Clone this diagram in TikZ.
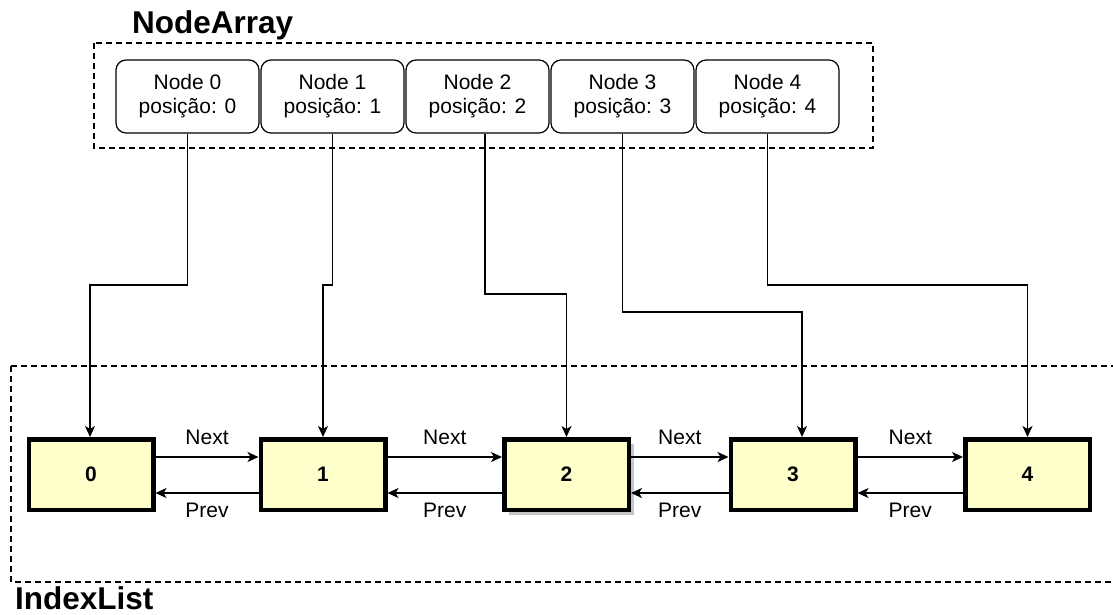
\documentclass[tikz,border=0pt]{standalone}
\usepackage{fontspec}
\setmainfont{Liberation Sans}
\usetikzlibrary{arrows.meta,shadows}
\definecolor{cellfill}{HTML}{FFFFCC}
\begin{document}
\begin{tikzpicture}[x=1pt,y=-1pt,
  every node/.style={font=\fontsize{21}{24}\selectfont},
  group/.style={draw, dashed, dash pattern=on 6pt off 4pt, line width=1.3pt},
  title/.style={font=\fontsize{31.5}{34}\selectfont\bfseries, anchor=base west, inner sep=0pt},
  slot/.style={draw, line width=1.2pt, rounded corners=10pt, minimum width=143pt,
    minimum height=73pt, align=center, inner sep=2pt},
  cell/.style={draw, line width=4.5pt, fill=cellfill, minimum width=124.5pt,
    minimum height=70.5pt, font=\fontsize{21}{24}\selectfont\bfseries},
  conn/.style={line width=1.5pt, -{Stealth[length=11pt,width=10pt,inset=3pt]}},
  lbl/.style={inner sep=0pt}]
\useasboundingbox (0,0) rectangle (1113,614);

% dashed group frames and their titles
\draw[group] (94,43) rectangle (873,148);
\draw[group] (11,366) -- (1116,366);
\draw[group] (11,366) -- (11,582) -- (1116,582);
\node[title] (natitle) at (132,33) {NodeArray};
\node[title] (iltitle) at (15,609) {IndexList};

% array slots
\node[slot] (n0) at (187.5,96.5) {Node 0\\posição: 0};
\node[slot] (n1) at (332.5,96.5) {Node 1\\posição: 1};
\node[slot] (n2) at (477.5,96.5) {Node 2\\posição: 2};
\node[slot] (n3) at (622.5,96.5) {Node 3\\posição: 3};
\node[slot] (n4) at (767.5,96.5) {Node 4\\posição: 4};

% list cells
\node[cell] (b0) at (91,474.5) {0};
\node[cell] (b1) at (323,474.5) {1};
\node[cell, drop shadow={shadow xshift=5pt, shadow yshift=-5pt, fill=black!45, opacity=0.5}] (b2) at (566.5,474.5) {2};
\node[cell] (b3) at (793,474.5) {3};
\node[cell] (b4) at (1027.5,474.5) {4};

% bend points of the index connectors
\coordinate (k0) at (90,285);
\coordinate (k1) at (323,285);
\coordinate (k2) at (566.5,294);
\coordinate (k3) at (802,312);
\coordinate (k4) at (1027.5,285);

\draw[conn] (n0.south) |- (k0) -- (b0.north -| k0);
\draw[conn] (n1.south) |- (k1) -- (b1.north);
\draw[conn] ([xshift=7.5pt]n2.south) |- (k2) -- (b2.north);
\draw[conn] (n3.south) |- (k3) -- (b3.north -| k3);
\draw[conn] (n4.south) |- (k4) -- (b4.north);

% next / prev links
\foreach \a/\b in {b0/b1,b1/b2,b2/b3,b3/b4}{
  \draw[conn] ([yshift=17.5pt]\a.east) -- node[lbl, yshift=20pt] {Next} ([yshift=17.5pt]\b.west);
  \draw[conn] ([yshift=-18.5pt]\b.west) -- node[lbl, yshift=-17pt] {Prev} ([yshift=-18.5pt]\a.east);
}
\end{tikzpicture}
\end{document}
